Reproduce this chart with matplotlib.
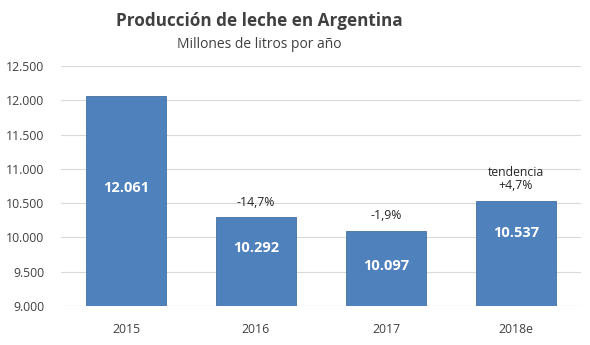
import matplotlib.pyplot as plt

plt.rcParams['font.family'] = ['Open Sans', 'DejaVu Sans']

# Datos de produccion (millones de litros)
years = ['2015', '2016', '2017', '2018e']
production = [12061, 10292, 10097, 10537]
value_labels = ['12.061', '10.292', '10.097', '10.537']
label_y = [10720, 9850, 9580, 10065]
changes = ['', '-14,7%', '-1,9%', 'tendencia\n+4,7%']
y_ticks = [9000, 9500, 10000, 10500, 11000, 11500, 12000, 12500]

fig = plt.figure(figsize=(5.9, 3.45), dpi=100)
ax = fig.add_axes([0.1034, 0.113, 0.8813, 0.696])

x = range(len(years))
ax.bar(x, production, width=0.62, color='#4F81BD', edgecolor='#41719C', linewidth=0.6, zorder=3)

for i in x:
    ax.text(i, label_y[i], value_labels[i], ha='center', va='center',
            color='white', fontsize=10.5, fontweight='bold', zorder=4)
    if changes[i]:
        ax.annotate(changes[i], (i, production[i]), xytext=(0, 6), textcoords='offset points',
                    ha='center', va='bottom', fontsize=8.8, color='#262626', linespacing=1.0)

ax.set_xlim(-0.5, 3.5)
ax.set_ylim(9000, 12500)
ax.set_yticks(y_ticks)
ax.set_yticklabels([f'{t:,}'.replace(',', '.') for t in y_ticks])
ax.set_xticks(list(x))
ax.set_xticklabels(years)
ax.tick_params(axis='both', length=0, labelsize=8.8, labelcolor='#404040')
ax.tick_params(axis='y', pad=12)
ax.tick_params(axis='x', pad=12)
ax.grid(axis='y', color='#D9D9D9', linewidth=0.8, zorder=0)
for s in ax.spines.values():
    s.set_visible(False)
ax.axhline(9000, color='#D9D9D9', linewidth=0.8, zorder=2)

fig.text(0.44, 0.94, 'Producción de leche en Argentina', ha='center', va='center',
         fontsize=12.3, fontweight='bold', color='#404040')
fig.text(0.44, 0.87, 'Millones de litros por año', ha='center', va='center',
         fontsize=10, color='#404040')

fig.savefig('out.png', dpi=100)
